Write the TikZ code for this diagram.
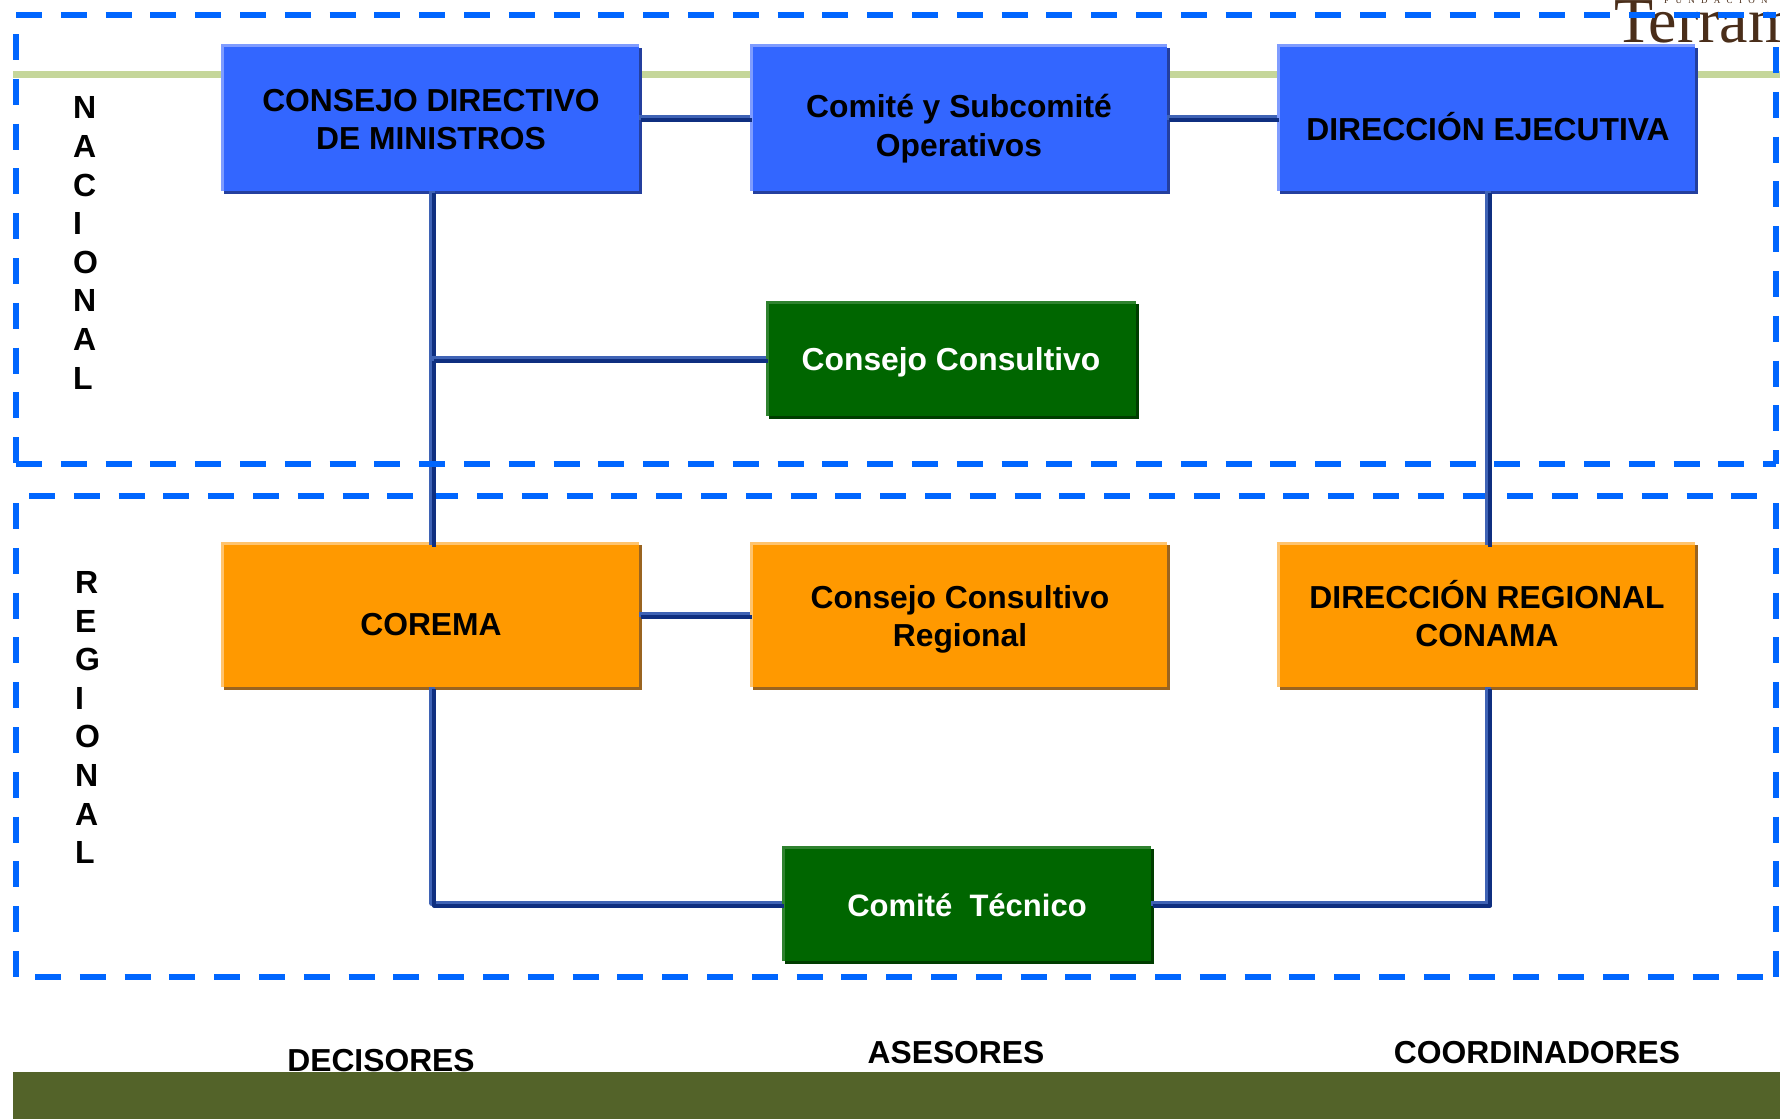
\documentclass[tikz,border=0pt]{standalone}
\usepackage{fontspec}
\setmainfont{Liberation Sans}
\newfontfamily\logofont{Liberation Serif}
\newfontfamily\logosubfont[LetterSpace=70]{Liberation Serif}
\usetikzlibrary{shadows,calc}
\definecolor{bluebody}{HTML}{3366FF}
\definecolor{bluelight}{HTML}{7F9CFF}
\definecolor{blueshade}{HTML}{243F9E}
\definecolor{orangebody}{HTML}{FF9900}
\definecolor{orangelight}{HTML}{FFC46E}
\definecolor{orangeshade}{HTML}{9A6420}
\definecolor{greenbody}{HTML}{006600}
\definecolor{greenlight}{HTML}{2F822F}
\definecolor{greenshade}{HTML}{003D00}
\definecolor{dashblue}{HTML}{0066FF}
\definecolor{ribbon}{HTML}{C5D69A}
\definecolor{band}{HTML}{536329}
\definecolor{connlight}{HTML}{3F63B5}
\definecolor{conndark}{HTML}{0F2F80}
\definecolor{logobrown}{HTML}{4A2E1A}
\tikzset{
  x=1pt,y=-1pt,
  boxbase/.style={rectangle,inner sep=0pt,outer sep=0pt,anchor=north west},
  bevelled/.style={path picture={\draw[#1,line width=5pt]
     (path picture bounding box.south west) -- (path picture bounding box.north west) -- (path picture bounding box.north east);}},
  bluebox/.style={boxbase,fill=bluebody,bevelled=bluelight,drop shadow={shadow xshift=3pt,shadow yshift=-3pt,fill=blueshade,opacity=1}},
  orangebox/.style={boxbase,fill=orangebody,bevelled=orangelight,drop shadow={shadow xshift=3pt,shadow yshift=-3pt,fill=orangeshade,opacity=1}},
  greenbox/.style={boxbase,fill=greenbody,bevelled=greenlight,drop shadow={shadow xshift=3pt,shadow yshift=-3pt,fill=greenshade,opacity=1}},
  boxtext/.style={font=\fontsize{31.8}{38.6}\selectfont\bfseries,align=center,text=black,inner sep=0pt},
  whitetext/.style={boxtext,text=white},
  sidetext/.style={font=\fontsize{32}{38.6}\selectfont\bfseries,align=left,anchor=west,inner sep=0pt},
  dashline/.style={draw=dashblue,line width=6pt,dash pattern=on 26pt off 18.8pt},
  conn/.style={draw=connlight,line width=5.5pt,line join=round,
     postaction={draw=conndark,line width=4pt,transform canvas={xshift=2pt,yshift=-2pt}}},
}
\begin{document}
\begin{tikzpicture}
\useasboundingbox (0,0) rectangle (1780,1119);
\fill[white] (0,0) rectangle (1780,1119);

% logo
\node[anchor=base west,inner sep=0pt,text=logobrown,font=\logofont\fontsize{64}{64}\selectfont] (logo) at (1614,42) {Terram};
\node[anchor=base west,inner sep=0pt,text=logobrown,font=\logosubfont\fontsize{9}{9}\selectfont] (logosub) at (1664,3) {FUNDACIÓN};

% green ribbon
\coordinate (ribL) at (13,74.5);
\coordinate (ribR) at (1780,74.5);
\draw[ribbon,line width=7pt] (ribL) -- (ribR);

% regional frame
\coordinate (rTL) at (16,496);
\coordinate (rTR) at (1776,496);
\coordinate (rBL) at (35,977);
\coordinate (rBR) at (1776,977);
\draw[dashline,dash phase=31.8pt] (rTL) -- (rTR);
\draw[dashline] (rBL) -- (rBR);
\draw[dashline] (16,503) -- (16,977);
\draw[dashline] (1776,503) -- (1776,977);

% boxes
\node[bluebox,minimum width=418pt,minimum height=146pt] (cdm) at (221,44.5) {};
\node[bluebox,minimum width=417pt,minimum height=146pt] (cso) at (750,44.5) {};
\node[bluebox,minimum width=418pt,minimum height=146pt] (dej) at (1277,44.5) {};
\node[greenbox,minimum width=370pt,minimum height=115pt] (ccn) at (766,301) {};
\node[orangebox,minimum width=418pt,minimum height=145pt] (cor) at (221,542) {};
\node[orangebox,minimum width=417pt,minimum height=145pt] (ccr) at (750,542) {};
\node[orangebox,minimum width=418pt,minimum height=145pt] (dre) at (1277,542) {};
\node[greenbox,minimum width=369pt,minimum height=115pt] (ctc) at (782,846) {};

% connectors
\draw[conn] (cdm.east) -- (cso.west);
\draw[conn] (cso.east) -- (dej.west);
\coordinate (branch) at (cdm.south |- ccn.west);
\draw[conn] ([xshift=2pt]cdm.south) -- ([xshift=2pt,yshift=-3pt]cor.north);
\draw[conn] ([xshift=2pt]branch) -- (ccn.west);
\draw[conn] ([xshift=2pt]dej.south) -- ([xshift=2pt,yshift=-3pt]dre.north);
\draw[conn] (cor.east) -- (ccr.west);
\draw[conn] ([xshift=2pt]cor.south) |- (ctc.west);
\draw[conn] (ctc.east) -| ([xshift=2pt]dre.south);

% national frame
\coordinate (nTL) at (16,15);
\coordinate (nTR) at (1776,15);
\coordinate (nBL) at (16,464);
\coordinate (nBR) at (1776,464);
\draw[dashline] (nTL) -- (nTR);
\draw[dashline] (nBL) -- (nBR);
\draw[dashline] (16,34) -- (16,464);
\draw[dashline] (1776,47) -- (1776,464);

% box texts
\node[boxtext] (tcdm) at (431,119.5) {CONSEJO DIRECTIVO\\DE MINISTROS};
\node[boxtext] (tcso) at (959,128.5) {Comité y Subcomité\\Operativos};
\node[boxtext] (tdej) at (1488,126.5) {DIRECCIÓN EJECUTIVA};
\node[whitetext] (tccn) at (951,362.5) {Consejo Consultivo};
\node[boxtext] (tcor) at (431,625) {COREMA};
\node[boxtext] (tccr) at (960,619.5) {Consejo Consultivo\\Regional};
\node[boxtext] (tdre) at (1487,613.5) {DIRECCIÓN REGIONAL\\CONAMA};
\node[whitetext,font=\fontsize{31}{38.6}\selectfont\bfseries] (tctc) at (967,905) {Comité\ \ Técnico};

% side labels
\node[sidetext] (nac) at (73,243) {N\\A\\C\\I\\O\\N\\A\\L};
\node[sidetext] (reg) at (75,717.5) {R\\E\\G\\I\\O\\N\\A\\L};

% column labels
\node[boxtext] (dec) at (381,1061) {DECISORES};
\node[boxtext] (ase) at (956,1053) {ASESORES};
\node[boxtext] (coo) at (1537,1053) {COORDINADORES};

% bottom band
\fill[band] (13,1072) rectangle (1780,1119);
\end{tikzpicture}
\end{document}
